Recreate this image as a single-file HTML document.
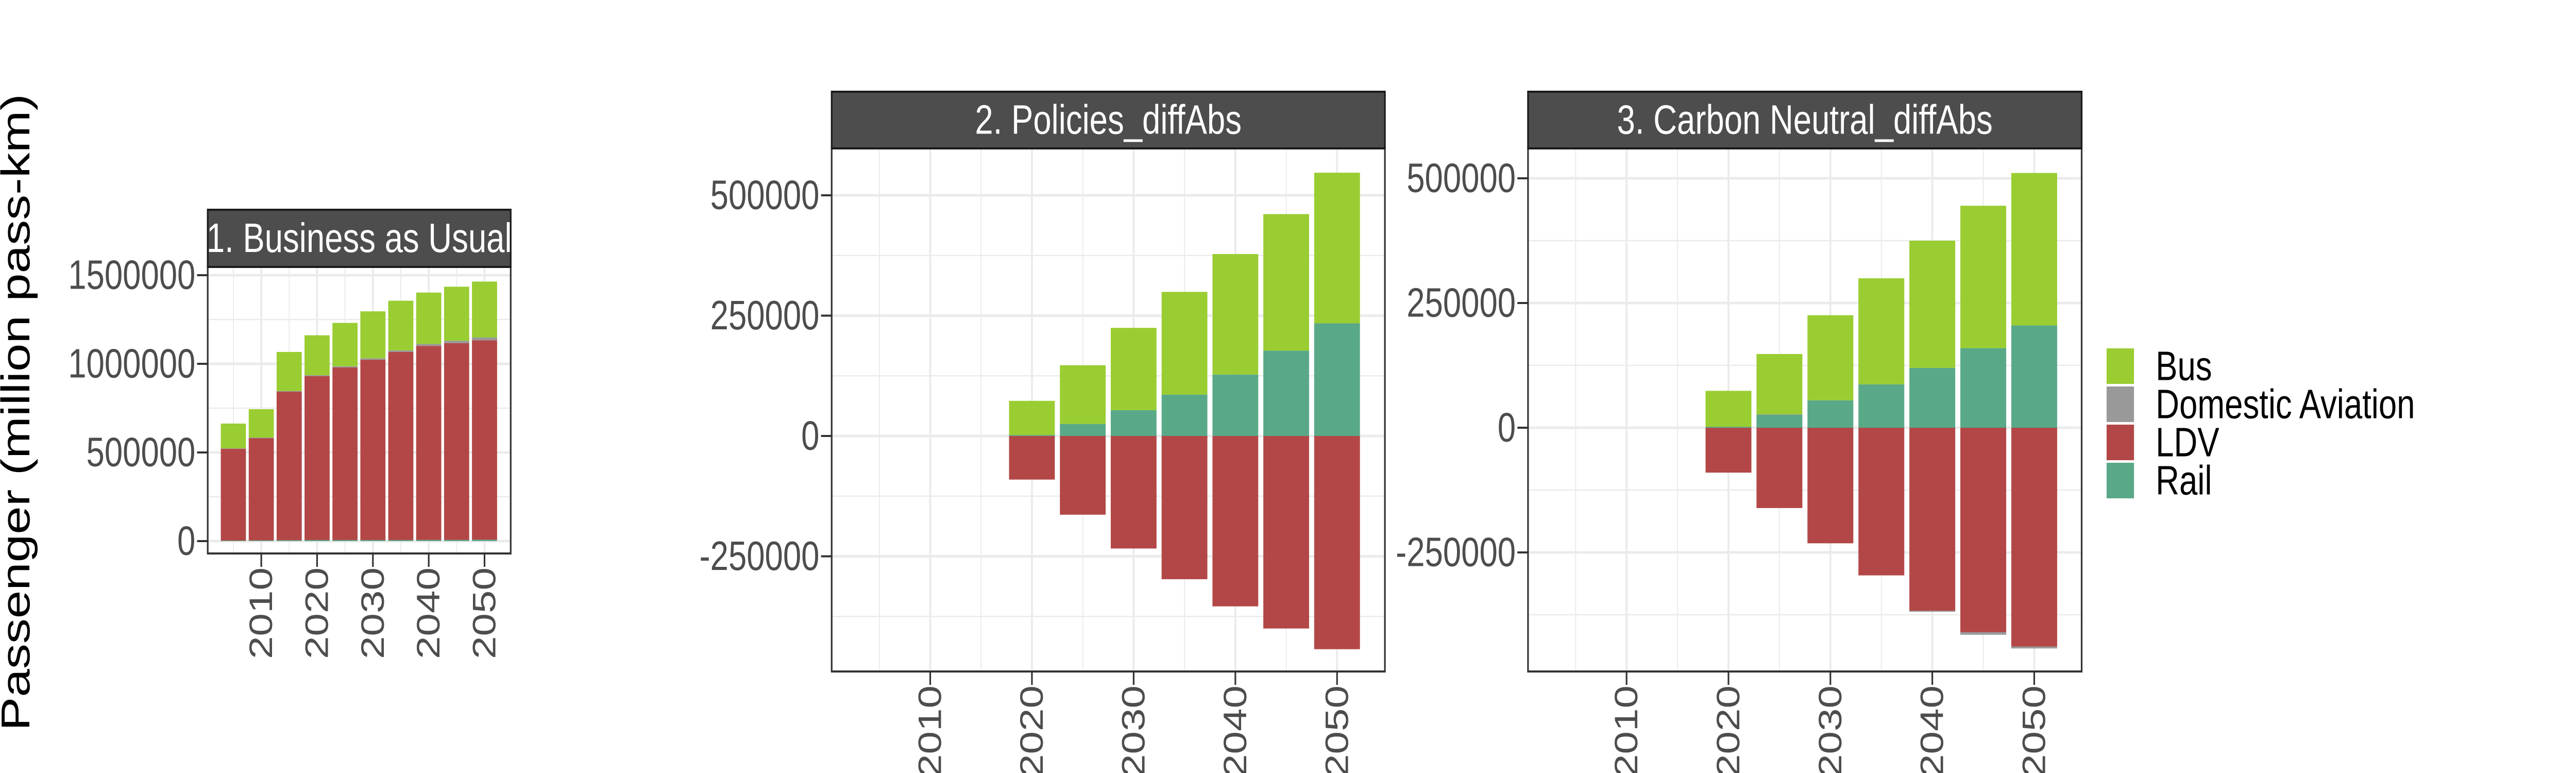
<!DOCTYPE html>
<html><head><meta charset="utf-8"><style>
html,body{margin:0;padding:0;background:#fff;overflow:hidden;width:100%;height:100%;}
svg{display:block;width:100vw;height:100vh;}
text{font-family:"Liberation Sans",sans-serif;}
</style></head><body>
<svg id="chart" viewBox="0 0 6300 1500" preserveAspectRatio="none" xmlns="http://www.w3.org/2000/svg">
<text transform="translate(72,800) rotate(-90)" text-anchor="middle" font-size="98" fill="#000">Passenger (million pass-km)</text>
<g id="legend"></g>
</svg>
<script>
const years = [2005,2010,2015,2020,2025,2030,2035,2040,2045,2050];
const modes = ["Bus","Domestic Aviation","LDV","Rail"];
const bauBus  = [140000,160000,220000,225000,245000,265000,280000,290000,305000,315000];
const bauAvi  = [2000,3000,4000,5000,6000,8000,9000,11000,13000,16000];
const bauLdv  = [518000,577000,838000,925000,974000,1017000,1061000,1094000,1110000,1125000];
const bauRail = [3000,4000,5000,6000,6000,6000,6000,7000,7000,8000];
const polBus  = [0,0,0,71000,122000,171000,213400,250400,283600,313000];
const polAvi  = [0,0,0,0,0,0,0,0,0,0];
const polLdv  = [0,0,0,-90600,-163600,-233800,-297600,-354000,-400000,-443000];
const polRail = [0,0,0,2000,25000,53600,86000,127600,177400,234000];
const cnBus   = [0,0,0,72000,121000,170500,212500,255000,285500,305700];
const cnAvi   = [0,0,0,0,1000,0,0,-2000,-5000,-4000];
const cnLdv   = [0,0,0,-90000,-161000,-231700,-296000,-367000,-410000,-438500];
const cnRail  = [0,0,0,2000,25800,55000,87000,120000,159500,205000];
const p1Ticks = [0,500000,1000000,1500000];
const p1TickLabels = ["0","500000","1000000","1500000"];
const diffTicks = [-250000,0,250000,500000];
const diffTickLabels = ["-250000","0","250000","500000"];
const xTicks = [2010,2020,2030,2040,2050];
const xTickLabels = ["2010","2020","2030","2040","2050"];

const colors = {"Bus":"#9acd32","Domestic Aviation":"#999999","LDV":"#b34747","Rail":"#59a988"};
const NS="http://www.w3.org/2000/svg";
const svg=document.getElementById('chart');
function mk(tag,attrs,parent){const e=document.createElementNS(NS,tag);for(const k in attrs)e.setAttribute(k,attrs[k]);(parent||svg).appendChild(e);return e;}

function drawPanel(cfg){
  const g=mk('g',{});
  
  
  const {x0,x1,top,bottom,y0v,y0px,y1v,y1px,x2010,x2050}=cfg;
  const yS=v=>y0px+(v-y0v)*(y1px-y0px)/(y1v-y0v);
  const xS=yr=>x2010+(yr-2010)*(x2050-x2010)/40;
  const bw=(xS(2015)-xS(2010))*0.9;
  mk('rect',{x:x0,y:top,width:x1-x0,height:bottom-top,fill:'#fff'},g);
  const step=cfg.ticks[1]-cfg.ticks[0];
  for(let v=cfg.ticks[0]-step/2; v<=cfg.ticks[cfg.ticks.length-1]+step; v+=step){
    const y=yS(v); if(y>top&&y<bottom) mk('line',{x1:x0,x2:x1,y1:y,y2:y,stroke:'#ebebeb','stroke-width':2.5},g);
  }
  for(let yr=2005; yr<=2055; yr+=10){const x=xS(yr); if(x>x0&&x<x1) mk('line',{x1:x,x2:x,y1:top,y2:bottom,stroke:'#ebebeb','stroke-width':2.5},g);}
  cfg.ticks.forEach(v=>{const y=yS(v); mk('line',{x1:x0,x2:x1,y1:y,y2:y,stroke:'#ebebeb','stroke-width':5},g);});
  xTicks.forEach(yr=>{const x=xS(yr); mk('line',{x1:x,x2:x,y1:top,y2:bottom,stroke:'#ebebeb','stroke-width':5},g);});
  const series=[["Rail",cfg.rail],["LDV",cfg.ldv],["Domestic Aviation",cfg.avi],["Bus",cfg.bus]];
  years.forEach((yr,i)=>{
    let pos=0,neg=0;
    series.forEach(([m,arr])=>{
      const v=arr[i]; if(!v) return;
      let a,b;
      if(v>0){a=pos;b=pos+v;pos=b;}else{a=neg;b=neg+v;neg=b;}
      const ya=yS(a),yb=yS(b);
      const r=mk('rect',{x:xS(yr)-bw/2,y:Math.min(ya,yb),width:bw,height:Math.abs(yb-ya),fill:colors[m]},g);
      
      
    });
  });
  mk('rect',{x:x0,y:top,width:x1-x0,height:bottom-top,fill:'none',stroke:'#333','stroke-width':4},g);
  const s=mk('rect',{x:x0,y:cfg.stripTop,width:x1-x0,height:top-cfg.stripTop,fill:'#4d4d4d',stroke:'#1a1a1a','stroke-width':4},g);
  
  
  const cp=mk('clipPath',{id:'clip-'+cfg.name},g);
  mk('rect',{x:x0,y:cfg.stripTop,width:x1-x0,height:top-cfg.stripTop},cp);
  const st=mk('text',{x:(x0+x1)/2,y:(cfg.stripTop+top)/2,'text-anchor':'middle','dominant-baseline':'central','font-size':80,fill:'#fff','clip-path':'url(#clip-'+cfg.name+')'},g);
  st.textContent=cfg.title;
  
  
  cfg.ticks.forEach((v,i)=>{
    const y=yS(v);
    mk('line',{x1:x0-26,x2:x0,y1:y,y2:y,stroke:'#333','stroke-width':4},g);
    const t=mk('text',{x:x0-30,y:y,'text-anchor':'end','dominant-baseline':'central','font-size':80,fill:'#4d4d4d'},g);
    t.textContent=cfg.tickLabels[i];
    
    
  });
  xTicks.forEach((yr,i)=>{
    const x=xS(yr);
    mk('line',{x1:x,x2:x,y1:bottom,y2:bottom+26,stroke:'#333','stroke-width':4},g);
    const t=mk('text',{transform:`translate(${x},${bottom+27}) rotate(-90)`,'text-anchor':'end','dominant-baseline':'central','font-size':80,fill:'#4d4d4d'},g);
    t.textContent=xTickLabels[i];
    
    
  });
}

drawPanel({name:'panel-business-as-usual',title:'1. Business as Usual',x0:508,x1:1249,stripTop:407,top:518,bottom:1074,
  y0v:0,y0px:1050,y1v:1500000,y1px:534,x2010:639,x2050:1185,ticks:p1Ticks,tickLabels:p1TickLabels,
  bus:bauBus,avi:bauAvi,ldv:bauLdv,rail:bauRail});
drawPanel({name:'panel-policies-diffabs',title:'2. Policies_diffAbs',x0:2034,x1:3387,stripTop:178,top:288,bottom:1303,
  y0v:0,y0px:846,y1v:500000,y1px:379,x2010:2275,x2050:3270,ticks:diffTicks,tickLabels:diffTickLabels,
  bus:polBus,avi:polAvi,ldv:polLdv,rail:polRail});
drawPanel({name:'panel-carbon-neutral-diffabs',title:'3. Carbon Neutral_diffAbs',x0:3737,x1:5091,stripTop:178,top:288,bottom:1303,
  y0v:0,y0px:830,y1v:500000,y1px:346,x2010:3978,x2050:4975,ticks:diffTicks,tickLabels:diffTickLabels,
  bus:cnBus,avi:cnAvi,ldv:cnLdv,rail:cnRail});

const lg=document.getElementById('legend');
modes.forEach((m,i)=>{
  const y=676+i*74;
  const r=mk('rect',{x:5152,y:y,width:67,height:69,fill:colors[m]},lg);
  
  
  const t=mk('text',{x:5272,y:y+35,'dominant-baseline':'central','font-size':80,fill:'#000'},lg);
  t.textContent=m;
  
  
});
</script>
</body></html>
